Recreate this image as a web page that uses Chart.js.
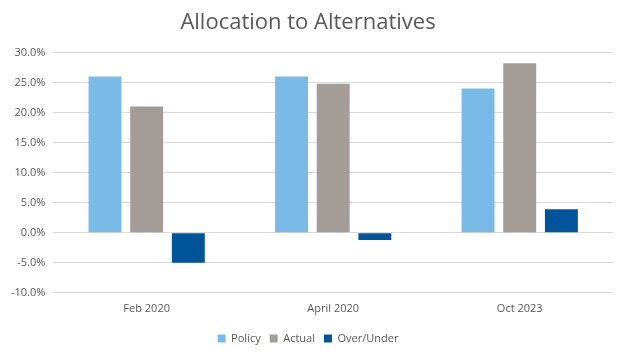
<!DOCTYPE html>
<html><head><meta charset="utf-8">
<script src="https://cdn.jsdelivr.net/npm/chart.js@4/dist/chart.umd.min.js"></script>
<style>html,body{margin:0;padding:0;background:#fff}#wrap{width:627px;height:355px}</style>
</head><body><div id="wrap"><canvas id="c" width="627" height="355"></canvas></div>
<script>
const categories = ["Feb 2020", "April 2020", "Oct 2023"];
const policy = [26.0, 26.0, 24.0];
const actual = [21.0, 24.8, 28.2];
const overUnder = [-5.0, -1.2, 3.9];
const yTicks = [-10, -5, 0, 5, 10, 15, 20, 25, 30];

const ctx = document.getElementById('c');
new Chart(ctx, {
  type: 'bar',
  data: {
    labels: categories,
    datasets: [
      {label: 'Policy', data: policy, backgroundColor: '#7ABAE6'},
      {label: 'Actual', data: actual, backgroundColor: '#A49C96'},
      {label: 'Over/Under', data: overUnder, backgroundColor: '#00549A'}
    ]
  },
  options: {
    responsive: false,
    animation: false,
    devicePixelRatio: 1,
    categoryPercentage: 0.67,
    barPercentage: 0.79,
    layout: {padding: {left: 3, right: 14, top: 8, bottom: 1}},
    plugins: {
      title: {display: true, text: 'Allocation to Alternatives', color: '#595959',
        font: {family: 'Open Sans', size: 22, weight: 'normal'}, padding: {top: 2, bottom: 16}},
      legend: {position: 'bottom', labels: {boxWidth: 8, boxHeight: 8, color: '#595959',
        font: {family: 'Open Sans', size: 11}, padding: 9}},
      tooltip: {enabled: false}
    },
    scales: {
      x: {grid: {display: false, drawTicks: false}, border: {display: false},
        ticks: {color: '#595959', font: {family: 'Open Sans', size: 11}, padding: 9}},
      y: {min: -10, max: 30,
        afterBuildTicks: (ax) => { ax.ticks = yTicks.map(v => ({value: v})); },
        grid: {color: '#D9D9D9', drawTicks: false}, border: {display: false},
        ticks: {color: '#595959', font: {family: 'Open Sans', size: 11}, padding: 8,
          callback: v => v.toFixed(1) + '%'}}
    }
  }
});
</script></body></html>
